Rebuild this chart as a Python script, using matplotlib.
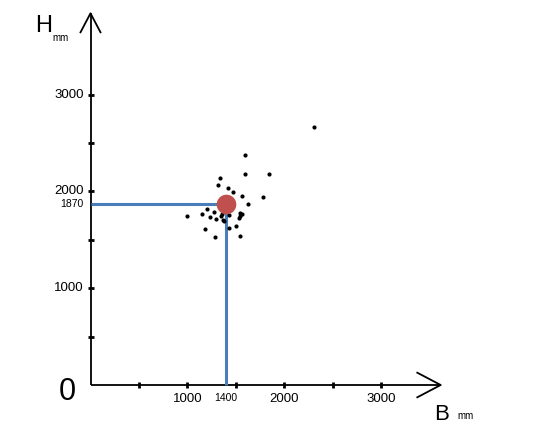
import matplotlib
matplotlib.use("Agg")
import matplotlib.pyplot as plt

plt.rcParams['font.family'] = ['Liberation Sans', 'DejaVu Sans']

# Data (B = width in mm, H = height in mm)
b_values = [1598, 1598, 1848, 1337, 1320, 1420, 1477, 1560, 1780, 1629,
            1206, 1278, 1147, 997, 1237, 1296, 1354, 1347, 1364, 1381,
            1433, 1543, 1570, 1549, 1536, 1178, 1430, 1502, 1286, 1546, 2309]
h_values = [2381, 2175, 2175, 2134, 2065, 2034, 1997, 1948, 1941, 1873,
            1814, 1784, 1766, 1745, 1732, 1711, 1770, 1749, 1708, 1694,
            1753, 1776, 1763, 1742, 1729, 1611, 1626, 1646, 1533, 1543, 2663]
highlight_b = 1400
highlight_h = 1870
tick_values = [500, 1000, 1500, 2000, 2500, 3000]
labeled_ticks = [1000, 2000, 3000]

W, H = 541, 433
fig = plt.figure(figsize=(W / 100, H / 100), dpi=100)
ax = fig.add_axes([0, 0, 1, 1])

# pixel scale: origin at (90.5, 385), 96.8 px per 1000 mm
ox, oy, k = 90.5, 385.0, 0.0968
ax.set_xlim(-ox / k, (W - ox) / k)
ax.set_ylim((oy - H) / k, oy / k)
ax.axis('off')

axis_lw = 1.3
# axes lines
x_end = (440.7 - ox) / k
y_end = (oy - 13.3) / k
ax.plot([0, x_end], [0, 0], color='black', lw=axis_lw, solid_capstyle='butt', zorder=2)
ax.plot([0, 0], [0, y_end], color='black', lw=axis_lw, solid_capstyle='butt', zorder=2)
# arrow heads (open)
xa = (417.3 - ox) / k
xd = 12.3 / k
ax.plot([xa, x_end, xa], [xd, 0, -xd], color='black', lw=axis_lw, zorder=2)
ya = (oy - 32.3) / k
yd = 10.0 / k
ax.plot([-yd, 0, yd], [ya, y_end, ya], color='black', lw=axis_lw, zorder=2)

# ticks
tl = 3.0 / k
for t in tick_values:
    ax.plot([t, t], [-tl, tl], color='black', lw=2.0, solid_capstyle='butt', zorder=2)
    ax.plot([-tl, tl], [t, t], color='black', lw=2.0, solid_capstyle='butt', zorder=2)

# tick labels
for t in labeled_ticks:
    ax.text(t, -14 / k, str(t), ha='center', va='center', fontsize=9.5)
    ax.text(-7 / k, t, str(t), ha='right', va='center', fontsize=9.5)
ax.text(highlight_b, -13 / k, str(highlight_b), ha='center', va='center', fontsize=7.5)
ax.text(-7 / k, highlight_h - 0.5 / k, str(highlight_h), ha='right', va='center', fontsize=7.5)

# axis titles
ax.text((67 - ox) / k, (oy - 392) / k, '0', ha='center', va='center', fontsize=22)
ax.text((43.5 - ox) / k, (oy - 26) / k, 'H', ha='center', va='center', fontsize=17)
ax.text((61 - ox) / k, (oy - 38) / k, 'mm', ha='center', va='center', fontsize=7)
ax.text((441.5 - ox) / k, (oy - 415) / k, 'B', ha='center', va='center', fontsize=16)
ax.text((466 - ox) / k, (oy - 416) / k, 'mm', ha='center', va='center', fontsize=7)

# blue guide lines
blue = '#4a7ebb'
ax.plot([0, highlight_b], [highlight_h, highlight_h], color=blue, lw=2.2, solid_capstyle='butt', zorder=3)
ax.plot([highlight_b, highlight_b], [0, highlight_h], color=blue, lw=2.2, solid_capstyle='butt', zorder=3)

# scatter points
ax.scatter(b_values, h_values, s=9, color='black', zorder=4, linewidths=0)
ax.scatter([highlight_b], [highlight_h], s=200, color='#c0504d', zorder=5, linewidths=0)

fig.savefig('out.png', dpi=100)
